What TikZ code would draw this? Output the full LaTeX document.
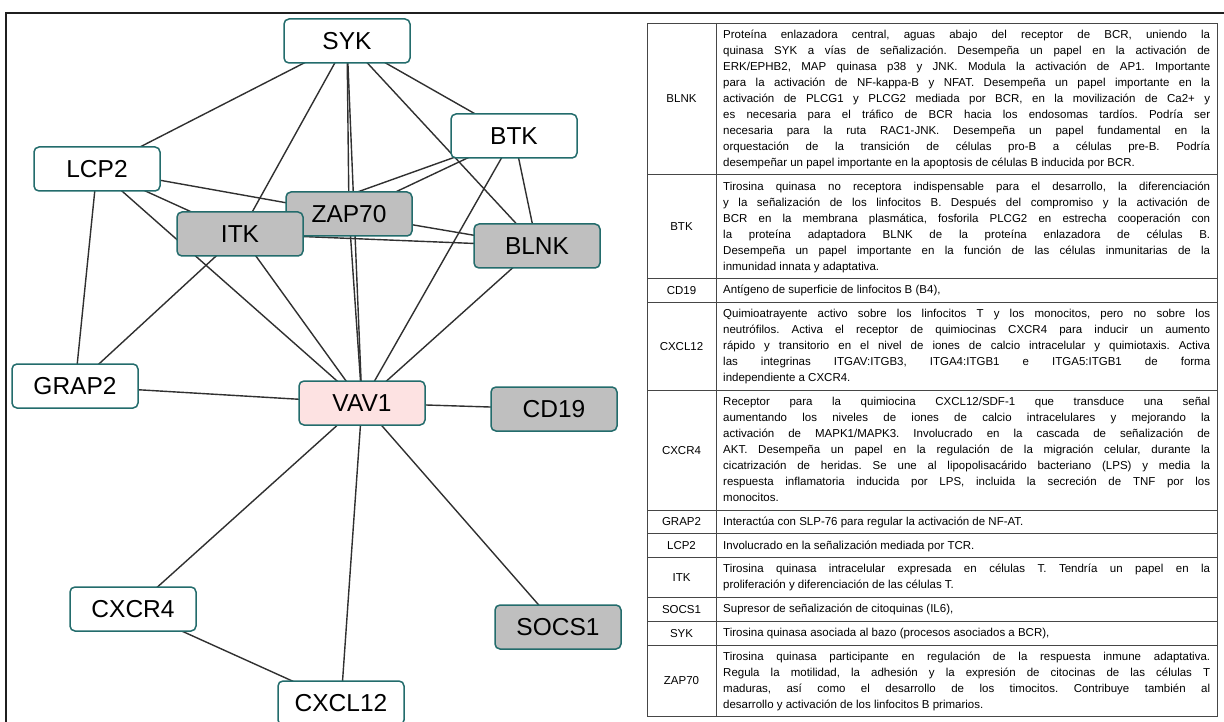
\documentclass[tikz,border=0pt]{standalone}
\usepackage{fontspec}
\setmainfont{Liberation Sans}
\usetikzlibrary{backgrounds}

\definecolor{nodeedge}{RGB}{35,108,108}
\definecolor{hitfill}{RGB}{191,191,191}
\definecolor{seedfill}{RGB}{253,226,226}
\definecolor{linkcol}{RGB}{48,48,48}
\definecolor{rulecol}{RGB}{70,70,70}

\newcommand{\tabfont}{\fontsize{11.5}{16}\selectfont}
% paragraph settings for the justified descriptions
\newcommand{\descsetup}{\frenchspacing\hyphenpenalty=10000 \tolerance=10000 \spaceskip=0.278em plus 0.6em minus 0.1em\relax}
% one row of the description table: name, top y, row height, text
\newcommand{\tablerow}[4]{%
  \node[tag] (tag#1) at (681.5, #2+#3/2) {#1};
  \node[desc] (desc#1) at (723, #2+3.9) {\descsetup\strut #4\strut};
  \draw[rule] (647, #2+#3) -- (1217, #2+#3);
}

\begin{document}
\begin{tikzpicture}[x=1pt, y=-1pt,
  gene/.style={draw=nodeedge, line width=1.5pt, rounded corners=5pt,
    minimum width=126pt, minimum height=44pt, inner sep=0pt,
    font=\fontsize{24.5}{28}\selectfont},
  plain/.style={gene, fill=white},
  hit/.style={gene, fill=hitfill},
  seed/.style={gene, fill=seedfill},
  link/.style={draw=linkcol, line width=1.4pt},
  tag/.style={inner sep=0pt, font=\tabfont},
  desc/.style={anchor=north west, inner sep=0pt, text width=487pt,
    align=justify, font=\tabfont},
  rule/.style={draw=rulecol, line width=0.9pt}]

\useasboundingbox (0,0) rectangle (1224,722);

% interaction network
\node[plain] (SYK)    at (347,41)  {SYK};
\node[plain] (BTK)    at (514,136) {BTK};
\node[plain] (LCP2)   at (97,169)  {LCP2};
\node[hit]   (ZAP70)  at (349,214) {ZAP70};
\node[hit]   (ITK)    at (240,234) {ITK};
\node[hit]   (BLNK)   at (537,246) {BLNK};
\node[plain] (GRAP2)  at (75,386)  {GRAP2};
\node[seed]  (VAV1)   at (362,403) {VAV1};
\node[hit]   (CD19)   at (554,409) {CD19};
\node[plain] (CXCR4)  at (133,609) {CXCR4};
\node[hit]   (SOCS1)  at (558,627) {SOCS1};
\node[plain] (CXCL12) at (341,703) {CXCL12};

\begin{scope}[on background layer]
  \fill[white] (0,0) rectangle (1224,722);
  \foreach \a/\b in {SYK/LCP2, SYK/ITK, SYK/ZAP70, SYK/VAV1, SYK/BLNK, SYK/BTK,
      BTK/ZAP70, BTK/ITK, BTK/VAV1, BTK/BLNK,
      LCP2/ZAP70, LCP2/ITK, LCP2/VAV1, LCP2/GRAP2,
      ITK/GRAP2, ITK/VAV1, ITK/BLNK,
      ZAP70/BLNK, ZAP70/VAV1, BLNK/VAV1,
      GRAP2/VAV1, VAV1/CD19, VAV1/CXCR4, VAV1/CXCL12, VAV1/SOCS1, CXCR4/CXCL12}
    \draw[link] (\a.center) -- (\b.center);
\end{scope}

% outer frame
\draw[line width=2.3pt, black!88] (6,730) -- (6,13) -- (1230,13);

% description table
\draw[rule] (647,23) rectangle (1217,716.8);
\draw[rule] (716,23) -- (716,716.8);

\tablerow{BLNK}{23}{151.8}{Proteína enlazadora central, aguas abajo del receptor de BCR, uniendo la\linebreak
quinasa SYK a vías de señalización. Desempeña un papel en la activación de\linebreak
ERK/EPHB2, MAP quinasa p38 y JNK. Modula la activación de AP1. Importante\linebreak
para la activación de NF-kappa-B y NFAT. Desempeña un papel importante en la\linebreak
activación de PLCG1 y PLCG2 mediada por BCR, en la movilización de Ca2+ y\linebreak
es necesaria para el tráfico de BCR hacia los endosomas tardíos. Podría ser\linebreak
necesaria para la ruta RAC1-JNK. Desempeña un papel fundamental en la\linebreak
orquestación de la transición de células pro-B a células pre-B. Podría\linebreak
desempeñar un papel importante en la apoptosis de células B inducida por BCR.}

\tablerow{BTK}{174.8}{103.8}{Tirosina quinasa no receptora indispensable para el desarrollo, la diferenciación\linebreak
y la señalización de los linfocitos B. Después del compromiso y la activación de\linebreak
BCR en la membrana plasmática, fosforila PLCG2 en estrecha cooperación con\linebreak
la proteína adaptadora BLNK de la proteína enlazadora de células B.\linebreak
Desempeña un papel importante en la función de las células inmunitarias de la\linebreak
inmunidad innata y adaptativa.}

\tablerow{CD19}{278.6}{23.8}{Antígeno de superficie de linfocitos B (B4),}

\tablerow{CXCL12}{302.4}{87.8}{Quimioatrayente activo sobre los linfocitos T y los monocitos, pero no sobre los\linebreak
neutrófilos. Activa el receptor de quimiocinas CXCR4 para inducir un aumento\linebreak
rápido y transitorio en el nivel de iones de calcio intracelular y quimiotaxis. Activa\linebreak
las integrinas ITGAV:ITGB3, ITGA4:ITGB1 e ITGA5:ITGB1 de forma\linebreak
independiente a CXCR4.}

\tablerow{CXCR4}{390.2}{119.8}{Receptor para la quimiocina CXCL12/SDF-1 que transduce una señal\linebreak
aumentando los niveles de iones de calcio intracelulares y mejorando la\linebreak
activación de MAPK1/MAPK3. Involucrado en la cascada de señalización de\linebreak
AKT. Desempeña un papel en la regulación de la migración celular, durante la\linebreak
cicatrización de heridas. Se une al lipopolisacárido bacteriano (LPS) y media la\linebreak
respuesta inflamatoria inducida por LPS, incluida la secreción de TNF por los\linebreak
monocitos.}

\tablerow{GRAP2}{510}{23.8}{Interactúa con SLP-76 para regular la activación de NF-AT.}

\tablerow{LCP2}{533.8}{23.8}{Involucrado en la señalización mediada por TCR.}

\tablerow{ITK}{557.6}{39.8}{Tirosina quinasa intracelular expresada en células T. Tendría un papel en la\linebreak
proliferación y diferenciación de las células T.}

\tablerow{SOCS1}{597.4}{23.8}{Supresor de señalización de citoquinas (IL6),}

\tablerow{SYK}{621.2}{23.8}{Tirosina quinasa asociada al bazo (procesos asociados a BCR),}

\tablerow{ZAP70}{645}{71.8}{Tirosina quinasa participante en regulación de la respuesta inmune adaptativa.\linebreak
Regula la motilidad, la adhesión y la expresión de citocinas de las células T\linebreak
maduras, así como el desarrollo de los timocitos. Contribuye también al\linebreak
desarrollo y activación de los linfocitos B primarios.}

\end{tikzpicture}
\end{document}
